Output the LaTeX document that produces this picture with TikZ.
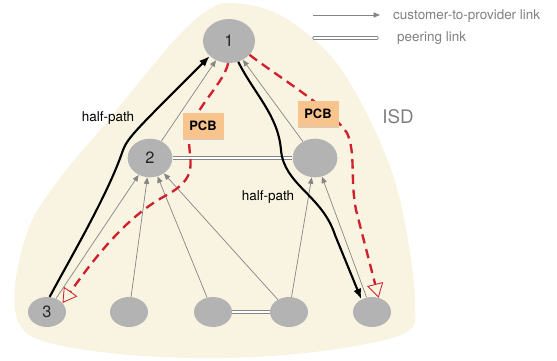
\documentclass[tikz,border=0pt]{standalone}
\usepackage{fontspec}
\setmainfont{TeX Gyre Heros}
\usepackage{tikz}
\usetikzlibrary{arrows.meta,shapes.geometric,shadows}
\definecolor{isdfill}{HTML}{F9F4E1}
\definecolor{asgray}{HTML}{B3B3B3}
\definecolor{linkgray}{HTML}{858585}
\definecolor{pcbred}{HTML}{D0202E}
\definecolor{pcbfill}{HTML}{F8C48E}
\definecolor{textgray}{HTML}{808080}

\begin{document}
\begin{tikzpicture}[x=0.03cm,y=-0.03cm,
  asnode/.style={ellipse, fill=asgray, inner sep=0pt, text=black!85, font=\fontsize{14}{16}\selectfont},
  bignode/.style={asnode, minimum width=1.56cm, minimum height=1.32cm},
  midnode/.style={asnode, minimum width=1.34cm, minimum height=1.16cm},
  lownode/.style={asnode, minimum width=1.14cm, minimum height=0.9cm},
  cp/.style={draw=linkgray, line width=0.6pt, -{Triangle[length=5.5pt,width=4.5pt]}},
  peer/.style={draw=linkgray, line width=0.6pt, double=white, double distance=1.6pt},
  half/.style={line width=1.8pt, -{Latex[length=9pt,width=7pt]}},
  pcbpath/.style={pcbred, line width=2pt, dash pattern=on 8pt off 5pt,
    -{Triangle[open,length=12pt,width=14pt,line width=0.7pt]}},
  pcbbox/.style={fill=pcbfill, minimum width=1.23cm, minimum height=0.78cm,
    font=\bfseries\fontsize{11}{13}\selectfont,
    drop shadow={opacity=0.35,shadow xshift=0.8pt,shadow yshift=-0.8pt}},
  lbl/.style={inner sep=0pt, font=\fontsize{11.5}{13}\selectfont}]

\useasboundingbox (0,0) rectangle (557,360);

% ISD area
\fill[isdfill] plot[smooth cycle, tension=0.6] coordinates {
  (232,3) (280,15) (330,55) (365,110) (393,175) (408,240) (415,305)
  (405,333) (330,350) (230,358) (130,355) (50,343) (20,325) (15,285)
  (30,225) (60,178) (110,118) (170,45) (205,12)};

\node[bignode] (as1) at (229,41) {1};
\node[midnode] (as2) at (150,158) {2};
\node[midnode] (as4) at (315,158) {};
\node[lownode] (as3) at (47,312) {3};
\node[lownode] (as5) at (129,312) {};
\node[lownode] (as6) at (213,312) {};
\node[lownode] (as7) at (289,312) {};
\node[lownode] (as8) at (372,312) {};

\draw[cp] (as2) -- (as1);
\draw[cp] (as4) -- (as1);
\draw[cp] (as3) -- (as2);
\draw[cp] (as5) -- (as2);
\draw[cp] (as6) -- (as2);
\draw[cp] (as7) -- (as2);
\draw[cp] (as7) -- (as4);
\draw[cp] (as8) -- (as4);

\draw[peer] (as2) -- (as4);
\draw[peer] (as6) -- (as7);

\draw[half] (as3.80) .. controls (68,262) and (108,195) .. (123,150)
  .. controls (128,137) and (138,128) .. (as1.218);
\draw[half] (as1.294) .. controls (255,95) and (278,115) .. (281,150)
  .. controls (284,185) and (322,195) .. (335,235) -- (as8.130);

\draw[pcbpath] (as1.268) .. controls (222,88) and (188,112) .. (189,142)
  .. controls (190,165) and (198,178) .. (165,196)
  .. controls (130,215) and (100,250) .. (as3.30);
\draw[pcbpath] (as1.-34) .. controls (280,78) and (330,108) .. (347,133)
  .. controls (356,152) and (350,180) .. (356,210) -- (as8.65);

\node[pcbbox] (pcb1) at (203,126) {PCB};
\node[pcbbox] (pcb2) at (318,114) {PCB};

\node[lbl] (hp1) at (108,118) {half-path};
\node[lbl] (hp2) at (268,197) {half-path};
\node[text=textgray, font=\fontsize{16}{18}\selectfont] (isd) at (398,117) {ISD};

% legend
\coordinate (cpA) at (313,15);
\coordinate (cpB) at (380,15);
\draw[cp] (cpA) -- (cpB);
\node[lbl, anchor=west, text=textgray] (cptxt) at (393,16) {customer-to-provider link};
\coordinate (peerA) at (314,38);
\coordinate (peerB) at (377,38);
\draw[peer, line cap=round] (peerA) -- (peerB);
\node[lbl, anchor=west, text=textgray] (peertxt) at (397,38) {peering link};
\end{tikzpicture}
\end{document}
